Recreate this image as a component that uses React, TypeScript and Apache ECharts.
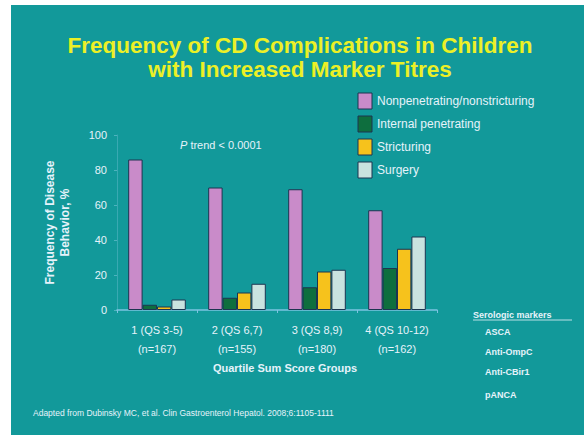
import React, { useEffect, useRef } from "react";
import * as echarts from "echarts";

const groups = ["1 (QS 3-5)\n(n=167)", "2 (QS 6,7)\n(n=155)", "3 (QS 8,9)\n(n=180)", "4 (QS 10-12)\n(n=162)"];
const seriesNames = ["Nonpenetrating/nonstricturing", "Internal penetrating", "Stricturing", "Surgery"];
const nonpenetrating = [86, 70, 69, 57];
const internalPenetrating = [3, 7, 13, 24];
const stricturing = [2, 10, 22, 35];
const surgery = [6, 15, 23, 42];
const seriesColors = ["#c98bc9", "#0e6e3e", "#f6c21c", "#c9e3df"];
const markers = ["ASCA", "Anti-OmpC", "Anti-CBir1", "pANCA"];

const TEAL = "#12999a";
const LIGHT = "#e6f3fb";
const FONT = "Liberation Sans, Arial, sans-serif";

export default function App() {
  const ref = useRef<HTMLDivElement>(null);

  useEffect(() => {
    const chart = echarts.init(ref.current!, null, { renderer: "svg" });
    const values = [nonpenetrating, internalPenetrating, stricturing, surgery];

    const legendItems: any[] = [];
    seriesNames.forEach((name, i) => {
      const y = 93 + i * 23;
      legendItems.push({
        type: "rect",
        shape: { x: 358, y, width: 14, height: 16 },
        style: { fill: seriesColors[i], stroke: "#1c3550", lineWidth: 1 },
      });
      legendItems.push({
        type: "text",
        x: 377,
        y: y + 8,
        style: { text: name, fill: LIGHT, font: `12px ${FONT}`, verticalAlign: "middle" },
      });
    });

    const markerItems: any[] = markers.map((m, i) => ({
      type: "text",
      x: 485,
      y: [332, 352, 372, 395][i],
      style: { text: m, fill: LIGHT, font: `bold 9px ${FONT}`, verticalAlign: "middle" },
    }));

    chart.setOption({
      animation: false,
      backgroundColor: "#ffffff",
      grid: { left: 117, right: 147, top: 135, bottom: 125 },
      xAxis: {
        type: "category",
        data: groups,
        axisLine: { lineStyle: { color: "#7cc3e2", width: 1.5 } },
        axisTick: { show: true, length: 3, lineStyle: { color: "#7cc3e2" } },
        axisLabel: {
          color: LIGHT,
          fontFamily: FONT,
          fontSize: 11,
          lineHeight: 19,
          margin: 10,
          interval: 0,
        },
      },
      yAxis: {
        type: "value",
        min: 0,
        max: 100,
        interval: 20,
        name: "Frequency of Disease\nBehavior, %",
        nameLocation: "middle",
        nameGap: 45,
        nameRotate: 90,
        nameTextStyle: { color: LIGHT, fontFamily: FONT, fontSize: 12, fontWeight: "bold", lineHeight: 15 },
        axisLine: { show: true, lineStyle: { color: "rgba(150,210,235,0.3)" } },
        axisTick: { show: true, length: 3, lineStyle: { color: "rgba(150,210,235,0.45)" } },
        splitLine: { show: false },
        axisLabel: { color: LIGHT, fontFamily: FONT, fontSize: 11, margin: 10 },
      },
      series: seriesNames.map((name, i) => ({
        name,
        type: "bar",
        data: values[i],
        barGap: "0%",
        barCategoryGap: "28%",
        itemStyle: { color: seriesColors[i], borderColor: "#1c3550", borderWidth: 1 },
      })),
      graphic: [
        {
          type: "rect",
          z: -10,
          shape: { x: 11, y: 5, width: 584 - 11, height: 435 - 5 },
          style: { fill: TEAL },
        },
        {
          type: "text",
          x: 300,
          y: 45,
          style: {
            text: "Frequency of CD Complications in Children",
            fill: "#ecf026",
            font: `bold 22.5px ${FONT}`,
            align: "center",
            verticalAlign: "middle",
          },
        },
        {
          type: "text",
          x: 300,
          y: 69,
          style: {
            text: "with Increased Marker Titres",
            fill: "#ecf026",
            font: `bold 22.5px ${FONT}`,
            align: "center",
            verticalAlign: "middle",
          },
        },
        ...legendItems,
        {
          type: "text",
          x: 180,
          y: 145,
          style: {
            text: "{i|P} trend < 0.0001",
            fill: LIGHT,
            font: `11px ${FONT}`,
            verticalAlign: "middle",
            rich: { i: { fontStyle: "italic", fill: LIGHT, font: `italic 11px ${FONT}` } },
          },
        },
        {
          type: "text",
          x: 285,
          y: 368,
          style: {
            text: "Quartile Sum Score Groups",
            fill: LIGHT,
            font: `bold 11px ${FONT}`,
            align: "center",
            verticalAlign: "middle",
          },
        },
        {
          type: "text",
          x: 473,
          y: 315,
          style: {
            text: "Serologic markers",
            fill: LIGHT,
            font: `bold 9px ${FONT}`,
            verticalAlign: "middle",
          },
        },
        {
          type: "line",
          shape: { x1: 473, y1: 320, x2: 572, y2: 320 },
          style: { stroke: LIGHT, lineWidth: 0.8 },
        },
        ...markerItems,
        {
          type: "text",
          x: 33,
          y: 413,
          style: {
            text: "Adapted from Dubinsky MC, et al. Clin Gastroenterol Hepatol. 2008;6:1105-1111",
            fill: LIGHT,
            font: `8.5px ${FONT}`,
            verticalAlign: "middle",
          },
        },
      ],
    });

    return () => chart.dispose();
  }, []);

  return (
    <div
      ref={ref}
      style={{ position: "absolute", left: 0, top: 0, width: 584, height: 435 }}
    />
  );
}
